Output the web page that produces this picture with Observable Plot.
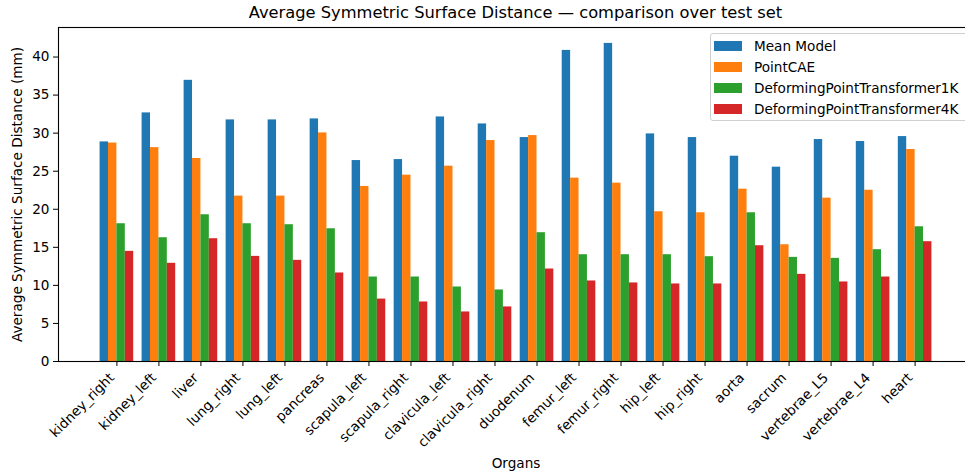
<!DOCTYPE html>
<html><head><meta charset="utf-8">
<script src="https://cdn.jsdelivr.net/npm/d3@7"></script>
<script src="https://cdn.jsdelivr.net/npm/@observablehq/plot@0.6"></script>
<style>
html,body{margin:0;padding:0;background:#fff;overflow:hidden}
#wrap{position:relative;width:965px;height:476px;overflow:hidden;font-family:"DejaVu Sans",sans-serif;color:#000}
#chart{position:absolute;left:0;top:0;width:973px}
#chart svg{max-width:none !important}
#title{position:absolute;left:0;width:1031px;top:5px;text-align:center;font-size:16.3px;line-height:16.3px;white-space:nowrap}
#legend{position:absolute;left:710px;top:33px;width:256px;height:86px;border:1px solid #d0d0d0;border-radius:3px;background:rgba(255,255,255,0.85)}
.row{position:absolute;left:3px;height:14px;font-size:13.6px;line-height:14px;white-space:nowrap}
.sw{position:absolute;left:0;top:2px;width:28px;height:10px}
.lb{position:absolute;left:40px;top:0}
</style></head>
<body>
<div id="wrap">
  <div id="chart"></div>
  <div id="title">Average Symmetric Surface Distance — comparison over test set</div>
  <div id="legend"></div>
</div>
<script>
const organs = ["kidney_right","kidney_left","liver","lung_right","lung_left","pancreas","scapula_left","scapula_right","clavicula_left","clavicula_right","duodenum","femur_left","femur_right","hip_left","hip_right","aorta","sacrum","vertebrae_L5","vertebrae_L4","heart"];
const series = ["Mean Model","PointCAE","DeformingPointTransformer1K","DeformingPointTransformer4K"];
const meanModel = [28.85,32.66,36.94,31.74,31.74,31.87,26.40,26.53,32.13,31.21,29.42,40.87,41.79,29.90,29.42,26.97,25.53,29.16,28.90,29.55];
const pointCAE  = [28.70,28.10,26.67,21.73,21.73,30.03,23.00,24.48,25.66,29.03,29.68,24.09,23.43,19.67,19.54,22.64,15.34,21.46,22.50,27.85];
const dpt1K     = [18.10,16.26,19.28,18.10,17.97,17.44,11.10,11.10,9.79,9.40,16.92,14.03,14.03,14.03,13.77,19.54,13.68,13.55,14.69,17.70];
const dpt4K     = [14.47,12.90,16.13,13.81,13.29,11.63,8.20,7.82,6.51,7.17,12.15,10.58,10.32,10.19,10.19,15.21,11.45,10.45,11.10,15.74];
const colors = ["#1f77b4","#ff7f0e","#2ca02c","#d62728"];
const yTicks = [0,5,10,15,20,25,30,35,40];

const values = [meanModel, pointCAE, dpt1K, dpt4K];
const rows = [];
organs.forEach((o, i) => series.forEach((s, k) => rows.push({organ: o, i, series: s, k, value: values[k][i]})));
const bw = 0.2;
const xTicks = organs.map((_, i) => i);

const chart = Plot.plot({
  width: 973, height: 476,
  marginTop: 27, marginBottom: 115, marginLeft: 58, marginRight: 0,
  style: {fontFamily: "DejaVu Sans", fontSize: "13.6px", color: "black", background: "white", overflow: "visible", maxWidth: "none"},
  x: {type: "linear", domain: [-1.39, 20.39]},
  y: {domain: [0, 43.88]},
  color: {domain: series, range: colors},
  marks: [
    Plot.rectY(rows, {x1: d => d.i + (d.k - 2) * bw, x2: d => d.i + (d.k - 1) * bw, y1: 0, y2: "value", fill: "series"}),
    Plot.axisY({ticks: yTicks, tickSize: 5, tickPadding: 4, label: "Average Symmetric Surface Distance (mm)", labelAnchor: "center", labelOffset: 46, labelArrow: "none"}),
    Plot.axisX({ticks: xTicks, tickSize: 5, tickFormat: () => "", label: null}),
    Plot.axisX({ticks: xTicks, tickFormat: i => organs[i], tickRotate: -45, tickSize: 0, tickPadding: 14, dx: -5, label: null}),
    Plot.axisX({ticks: [], tickSize: 0, label: "Organs", labelAnchor: "center", labelOffset: 106, labelArrow: "none"}),
    Plot.frame({stroke: "black", strokeWidth: 1.1})
  ]
});
chart.style.maxWidth = "none";
chart.style.width = "973px";
chart.style.height = "476px";
document.getElementById("chart").appendChild(chart);

const lg = document.getElementById("legend");
series.forEach((s, k) => {
  const r = document.createElement("div");
  r.className = "row";
  r.style.top = (5 + 21 * k) + "px";
  r.innerHTML = `<div class="sw" style="background:${colors[k]}"></div><div class="lb">${s}</div>`;
  lg.appendChild(r);
});
</script>
</body></html>
